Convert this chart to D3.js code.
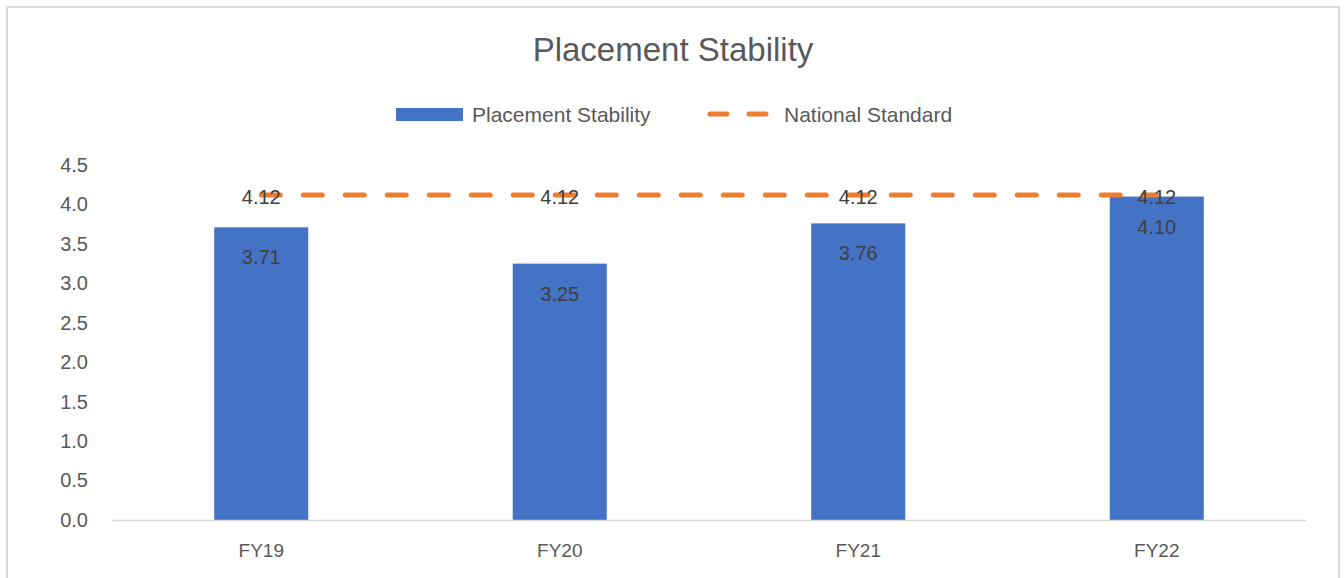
<!DOCTYPE html>
<html>
<head>
<meta charset="utf-8">
<script src="https://cdn.jsdelivr.net/npm/d3@7"></script>
<style>
  body { margin: 0; background: #fff; }
  svg { font-family: "Liberation Sans", Arial, sans-serif; }
</style>
</head>
<body>
<svg id="chart" width="1344" height="578"></svg>
<script>
// data
const categories = ['FY19', 'FY20', 'FY21', 'FY22']
const stability = [3.71, 3.25, 3.76, 4.10]
const nationalStandard = [4.12, 4.12, 4.12, 4.12]
const yTicks = [0, 0.5, 1, 1.5, 2, 2.5, 3, 3.5, 4, 4.5]

const barColor = '#4472C4'
const lineColor = '#ED7D31'
const textColor = '#595959'

const svg = d3.select('#chart')

// chart border
svg.append('rect')
    .attr('x', 7).attr('y', 7)
    .attr('width', 1332).attr('height', 600)
    .attr('fill', 'none')
    .attr('stroke', '#d9d9d9')
    .attr('stroke-width', 2)

const plot = { left: 112, right: 1306, top: 165, bottom: 520 }

const x = d3.scaleBand()
    .domain(categories)
    .range([plot.left, plot.right])
    .paddingInner(0.685)
    .paddingOuter(0.3425)

const y = d3.scaleLinear()
    .domain([0, 4.5])
    .range([plot.bottom, plot.top])

// title
svg.append('text')
    .attr('x', 673).attr('y', 61)
    .attr('text-anchor', 'middle')
    .attr('fill', textColor)
    .style('font-size', '33px')
    .text('Placement Stability')

// y axis (labels only)
const yAxis = svg.append('g')
    .attr('transform', 'translate(' + (plot.left - 24) + ',0)')
    .call(d3.axisLeft(y).tickValues(yTicks).tickFormat(d3.format('.1f')).tickSize(0).tickPadding(0))
yAxis.select('.domain').remove()
yAxis.selectAll('text')
    .attr('fill', textColor)
    .style('font-size', '20px')
    .style('font-family', '"Liberation Sans", Arial, sans-serif')

// bars
svg.selectAll('rect.bar')
    .data(stability)
    .enter()
    .append('rect')
    .attr('class', 'bar')
    .attr('x', (d, i) => x(categories[i]))
    .attr('y', d => y(d))
    .attr('width', x.bandwidth())
    .attr('height', d => y(0) - y(d))
    .attr('fill', barColor)

// x axis
const xAxis = svg.append('g')
    .attr('transform', 'translate(0,' + plot.bottom + ')')
    .call(d3.axisBottom(x).tickSize(0).tickPadding(24))
xAxis.select('.domain').attr('stroke', '#d9d9d9').attr('stroke-width', 1.5)
xAxis.selectAll('text')
    .attr('fill', textColor)
    .style('font-size', '19px')
    .style('font-family', '"Liberation Sans", Arial, sans-serif')

// national standard line
const line = d3.line()
    .x((d, i) => x(categories[i]) + x.bandwidth() / 2)
    .y(d => y(d))

svg.append('path')
    .datum(nationalStandard)
    .attr('d', line)
    .attr('fill', 'none')
    .attr('stroke', lineColor)
    .attr('stroke-width', 5)
    .attr('stroke-linecap', 'round')
    .attr('stroke-dasharray', '19,23')

// bar labels
svg.selectAll('text.barLabel')
    .data(stability)
    .enter()
    .append('text')
    .attr('class', 'barLabel')
    .attr('x', (d, i) => x(categories[i]) + x.bandwidth() / 2)
    .attr('y', d => y(d) + 37)
    .attr('text-anchor', 'middle')
    .attr('fill', '#404040')
    .style('font-size', '20px')
    .text(d => d.toFixed(2))

// line labels
svg.selectAll('text.lineLabel')
    .data(nationalStandard)
    .enter()
    .append('text')
    .attr('class', 'lineLabel')
    .attr('x', (d, i) => x(categories[i]) + x.bandwidth() / 2)
    .attr('y', d => y(d) + 9)
    .attr('text-anchor', 'middle')
    .attr('fill', '#404040')
    .style('font-size', '20px')
    .text(d => d.toFixed(2))

// legend
const legend = svg.append('g')
legend.append('rect')
    .attr('x', 396).attr('y', 108)
    .attr('width', 67).attr('height', 13)
    .attr('fill', barColor)
legend.append('text')
    .attr('x', 472).attr('y', 122)
    .attr('fill', textColor)
    .style('font-size', '21px')
    .text('Placement Stability')
legend.append('line')
    .attr('x1', 710).attr('x2', 768)
    .attr('y1', 114).attr('y2', 114)
    .attr('stroke', lineColor)
    .attr('stroke-width', 5)
    .attr('stroke-linecap', 'round')
    .attr('stroke-dasharray', '17,22')
legend.append('text')
    .attr('x', 784).attr('y', 122)
    .attr('fill', textColor)
    .style('font-size', '21px')
    .text('National Standard')
</script>
</body>
</html>
